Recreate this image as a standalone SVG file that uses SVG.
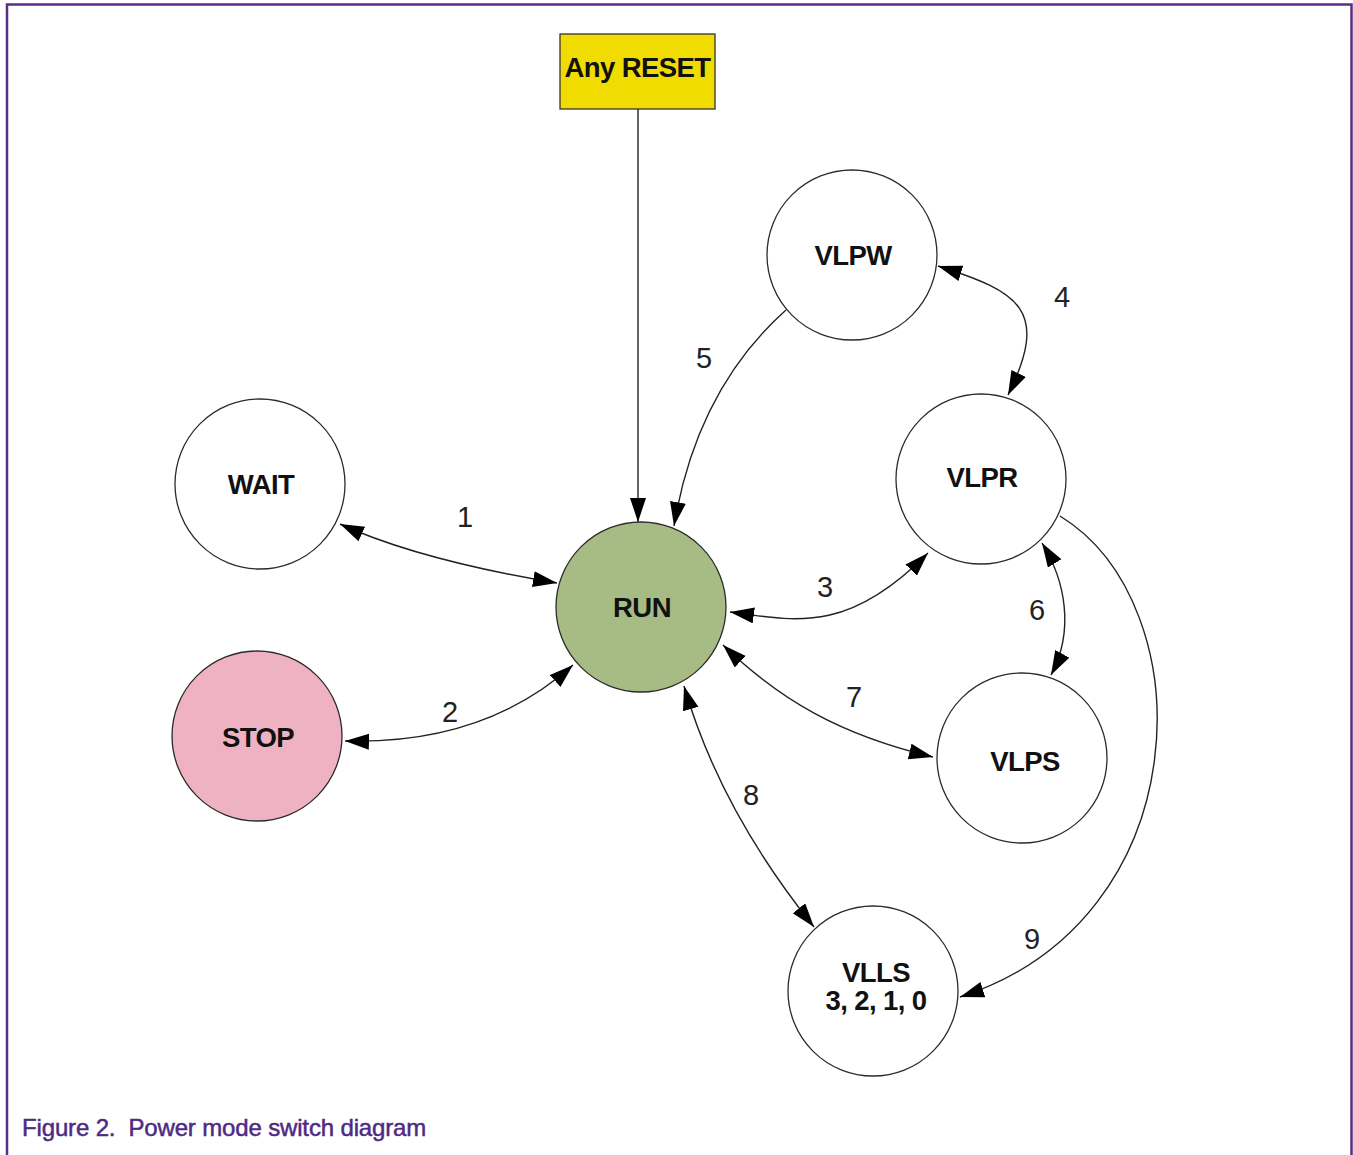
<svg xmlns="http://www.w3.org/2000/svg" width="1353" height="1155" viewBox="0 0 1353 1155">
<style>
.node{stroke:#2b2b2b;stroke-width:1.3}
.plain{fill:#ffffff}
.lbl{font-family:"Liberation Sans",Arial,sans-serif;font-weight:bold;font-size:27.5px;fill:#111;text-anchor:middle;letter-spacing:-0.6px}
.num{font-family:"Liberation Sans",Arial,sans-serif;font-size:29px;fill:#222;text-anchor:middle}
.edge{fill:none;stroke:#222;stroke-width:1.4}
.frame{fill:none;stroke:#5a2d86;stroke-width:2.5}
.cap{font-family:"Liberation Sans",Arial,sans-serif;font-size:24px;fill:#4e2a84;stroke:#4e2a84;stroke-width:0.5;letter-spacing:-0.15px}
</style>
<defs>
<marker id="ah" markerUnits="userSpaceOnUse" markerWidth="26" markerHeight="18" refX="24" refY="8" orient="auto-start-reverse" viewBox="0 0 26 18">
<path d="M0,0 L24,8 L0,16 z" fill="#000"/>
</marker>
</defs>
<rect width="1353" height="1155" fill="#ffffff"/>
<g id="frame">
<path class="frame" d="M7,1155 L7,4.5 L1351.5,4.5 L1351.5,1155"/>
</g>
<g id="edges">
<path class="edge" d="M638,109 L638,522" marker-end="url(#ah)"/>
<path class="edge" d="M340,524 Q419,560 557,583" marker-start="url(#ah)" marker-end="url(#ah)"/>
<path class="edge" d="M345,741 C455,744 525,708 573,665" marker-start="url(#ah)" marker-end="url(#ah)"/>
<path class="edge" d="M730,612 C800,622 850,632 928,553" marker-start="url(#ah)" marker-end="url(#ah)"/>
<path class="edge" d="M938,266 C1020,292 1050,310 1008,395" marker-start="url(#ah)" marker-end="url(#ah)"/>
<path class="edge" d="M786,310 C730,360 690,430 674,526" marker-end="url(#ah)"/>
<path class="edge" d="M1042,543 C1065,580 1075,630 1051,675" marker-start="url(#ah)" marker-end="url(#ah)"/>
<path class="edge" d="M723,645 C780,700 840,735 933,757" marker-start="url(#ah)" marker-end="url(#ah)"/>
<path class="edge" d="M684,686 Q720,810 814,927" marker-start="url(#ah)" marker-end="url(#ah)"/>
<path class="edge" d="M1060,516 C1205,605 1200,920 960,997" marker-end="url(#ah)"/>
</g>
<g id="labels">
<text class="num" x="465" y="527">1</text>
<text class="num" x="450" y="722">2</text>
<text class="num" x="825" y="597">3</text>
<text class="num" x="1062" y="307">4</text>
<text class="num" x="704" y="368">5</text>
<text class="num" x="1037" y="620">6</text>
<text class="num" x="854" y="707">7</text>
<text class="num" x="751" y="805">8</text>
<text class="num" x="1032" y="949">9</text>
</g>
<g id="reset">
<rect x="560" y="34" width="155" height="75" fill="#f0dc00" stroke="#333" stroke-width="1.3"/>
<text class="lbl" x="637.5" y="77">Any RESET</text>
</g>
<g id="vlpw">
<circle class="node plain" cx="852" cy="255" r="85"/>
<text class="lbl" x="853" y="265">VLPW</text>
</g>
<g id="wait">
<circle class="node plain" cx="260" cy="484" r="85"/>
<text class="lbl" x="261" y="494">WAIT</text>
</g>
<g id="vlpr">
<circle class="node plain" cx="981" cy="479" r="85"/>
<text class="lbl" x="982" y="487">VLPR</text>
</g>
<g id="run">
<circle class="node" cx="641" cy="607" r="85" fill="#a6bc84"/>
<text class="lbl" x="642" y="617">RUN</text>
</g>
<g id="stop">
<circle class="node" cx="257" cy="736" r="85" fill="#efb2c2"/>
<text class="lbl" x="258" y="747">STOP</text>
</g>
<g id="vlps">
<circle class="node plain" cx="1022" cy="758" r="85"/>
<text class="lbl" x="1025" y="771">VLPS</text>
</g>
<g id="vlls">
<circle class="node plain" cx="873" cy="991" r="85"/>
<text class="lbl" x="876" y="982">VLLS</text>
<text class="lbl" x="876" y="1010">3, 2, 1, 0</text>
</g>
<g id="caption">
<text class="cap" x="22" y="1136" xml:space="preserve">Figure 2.  Power mode switch diagram</text>
</g>
</svg>
